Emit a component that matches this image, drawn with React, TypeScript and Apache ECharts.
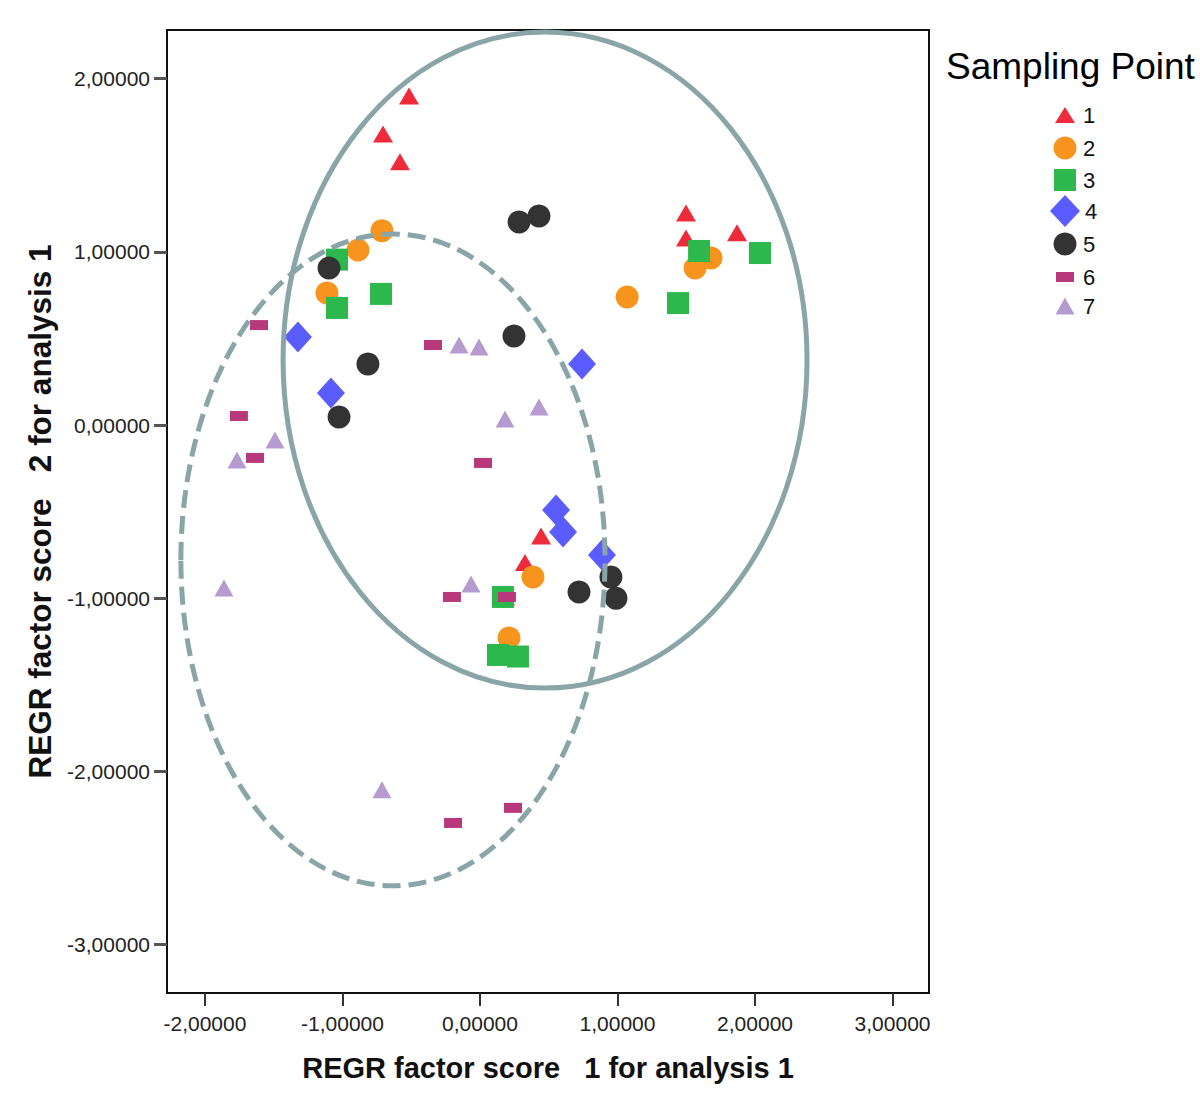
import React, { useEffect, useRef } from "react";
import * as echarts from "echarts";

// ---- data ----
const groupNames = ["1", "2", "3", "4", "5", "6", "7"];
const groupColors = ["#ee2b3b", "#f7941e", "#2cb84c", "#5a5cff", "#333333", "#b8387c", "#b69bd0"];

const point1 = [
  [-0.516, 1.9], [-0.705, 1.68], [-0.582, 1.52], [1.498, 1.224], [1.498, 1.08],
  [1.869, 1.11], [0.444, -0.641], [0.327, -0.794], [0.182, -0.993],
];
const point2 = [
  [-0.713, 1.122], [-0.887, 1.01], [-1.113, 0.762], [1.07, 0.739], [1.564, 0.906],
  [1.68, 0.964], [0.385, -0.878], [0.211, -1.23],
];
const point3 = [
  [-1.04, 0.955], [-1.04, 0.676], [-0.72, 0.757], [1.593, 1.005], [2.036, 0.993],
  [1.44, 0.704], [0.167, -0.993], [0.131, -1.328], [0.276, -1.337],
];
const point4 = [
  [-1.324, 0.508], [-1.084, 0.185], [0.742, 0.352], [0.553, -0.491], [0.604, -0.618],
  [0.887, -0.751],
];
const point5 = [
  [-1.098, 0.906], [-0.815, 0.352], [-1.025, 0.046], [0.284, 1.172], [0.429, 1.207],
  [0.247, 0.514], [0.72, -0.964], [0.952, -0.878], [0.989, -1.0],
];
const point6 = [
  [-1.607, 0.577], [-1.753, 0.052], [-1.636, -0.19], [-0.342, 0.462], [0.022, -0.219],
  [-0.204, -0.993], [0.196, -0.993], [-0.196, -2.298], [0.24, -2.211],
];
const point7 = [
  [-1.491, -0.087], [-1.767, -0.202], [-1.862, -0.941], [-0.152, 0.462], [-0.007, 0.45],
  [0.182, 0.035], [0.429, 0.104], [-0.065, -0.918], [-0.713, -2.107],
];
const groupPoints = [point1, point2, point3, point4, point5, point6, point7];

// ellipses: [centerX, centerY, radiusX, radiusY] in data units
const solidEllipse = [[0.473, 0.375, 1.905, 1.894]];
const dashedEllipse = [[-0.633, -0.779, 1.542, 1.882]];

const xTicks = [-2, -1, 0, 1, 2, 3];
const yTicks = [-3, -2, -1, 0, 1, 2];
const xRange = [-2.276, 3.265];
const yRange = [-3.28, 2.281];

const xTitle = "REGR factor score   1 for analysis 1";
const yTitle = "REGR factor score   2 for analysis 1";
const legendTitle = "Sampling Point";

// ---- styles ----
const FONT = "'Liberation Sans', Arial, Helvetica, sans-serif";
const symbols = ["triangle", "circle", "rect", "diamond", "circle", "rect", "triangle"];
const symbolSizes: any[] = [[20, 17], 23, 22, [28, 31], 23, [18, 10], [19, 17]];
const legendSizes: number[][] = [[20, 16], [23, 23], [22, 22], [30, 32], [23, 23], [18, 10], [19, 17]];
const legendCenters = [115, 148, 180, 211, 244, 277, 306];
const ELLIPSE_COLOR = "#89a5a8";

const fmt = (v: number) => v.toFixed(5).replace(".", ",").replace(/^-0,00000$/, "0,00000");

function ellipseRender(dashed: boolean) {
  return (params: any, api: any) => {
    const c = api.coord([api.value(0), api.value(1)]);
    const s = api.size([api.value(2), api.value(3)]);
    return {
      type: "ellipse",
      shape: { cx: c[0], cy: c[1], rx: s[0], ry: s[1] },
      style: {
        fill: "none",
        stroke: ELLIPSE_COLOR,
        lineWidth: 5,
        lineDash: dashed ? [18, 8] : null,
      },
    };
  };
}

export default function App() {
  const ref = useRef<HTMLDivElement>(null);
  useEffect(() => {
    if (!ref.current) return;
    const chart = echarts.init(ref.current, null, { renderer: "svg" });

    const scatterSeries = groupNames.map((name, i) => ({
      name,
      type: "scatter",
      data: groupPoints[i],
      symbol: symbols[i],
      symbolSize: symbolSizes[i],
      itemStyle: { color: groupColors[i], opacity: 1 },
      z: 2 + i,
    }));

    const legends = groupNames.map((name, i) => {
      const [w, h] = legendSizes[i];
      return {
        show: true,
        orient: "vertical",
        left: 1065 - w / 2,
        top: legendCenters[i] - Math.max(h / 2, 11),
        padding: 0,
        itemWidth: w,
        itemHeight: h,
        symbolKeepAspect: false,
        selectedMode: false,
        data: [{ name, icon: symbols[i] }],
        textStyle: {
          fontFamily: FONT,
          fontSize: 22,
          lineHeight: 22,
          color: "#111",
          padding: [0, 0, 0, Math.max(0, 13 - w / 2)],
        },
      };
    });

    chart.setOption({
      animation: false,
      backgroundColor: "#ffffff",
      title: {
        text: legendTitle,
        left: 946,
        top: 48,
        padding: 0,
        textStyle: { fontFamily: FONT, fontSize: 37, fontWeight: "normal", color: "#000" },
      },
      legend: legends,
      grid: {
        left: 167,
        top: 30,
        right: 271,
        bottom: 111,
        show: true,
        borderColor: "#111",
        borderWidth: 2,
        backgroundColor: "transparent",
      },
      xAxis: {
        type: "value",
        min: xRange[0],
        max: xRange[1],
        name: xTitle,
        nameLocation: "middle",
        nameGap: 60,
        nameTextStyle: { fontFamily: FONT, fontSize: 29, fontWeight: "bold", color: "#111" },
        axisLine: { show: false, onZero: false },
        splitLine: { show: false },
        axisTick: {
          show: true,
          length: 13,
          customValues: xTicks,
          lineStyle: { color: "#333", width: 2 },
        },
        axisLabel: {
          customValues: xTicks,
          formatter: fmt,
          margin: 20,
          fontFamily: FONT,
          fontSize: 21,
          color: "#222",
        },
      },
      yAxis: {
        type: "value",
        min: yRange[0],
        max: yRange[1],
        name: yTitle,
        nameLocation: "middle",
        nameGap: 108,
        nameRotate: 90,
        nameTextStyle: { fontFamily: FONT, fontSize: 31.5, fontWeight: "bold", color: "#111" },
        axisLine: { show: false, onZero: false },
        splitLine: { show: false },
        axisTick: {
          show: true,
          length: 13,
          customValues: yTicks,
          lineStyle: { color: "#555", width: 3 },
        },
        axisLabel: {
          customValues: yTicks,
          formatter: fmt,
          margin: 17,
          fontFamily: FONT,
          fontSize: 21,
          color: "#222",
        },
      },
      series: [
        ...scatterSeries,
        {
          name: "solid ellipse",
          type: "custom",
          data: solidEllipse,
          renderItem: ellipseRender(false),
          z: 20,
          silent: true,
        },
        {
          name: "dashed ellipse",
          type: "custom",
          data: dashedEllipse,
          renderItem: ellipseRender(true),
          z: 20,
          silent: true,
        },
      ],
    });
    return () => chart.dispose();
  }, []);

  return (
    <div
      ref={ref}
      style={{ position: "fixed", left: 0, top: 0, width: 1200, height: 1104, background: "#fff" }}
    />
  );
}
